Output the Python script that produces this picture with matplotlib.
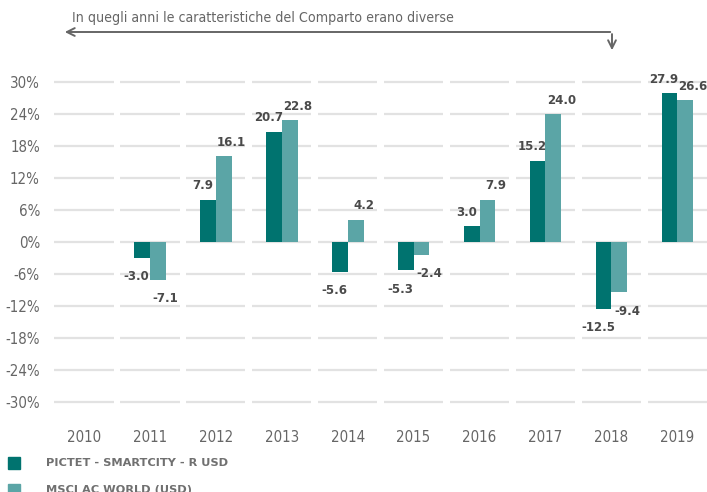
import matplotlib.pyplot as plt
from matplotlib.patches import Rectangle

years = ['2010', '2011', '2012', '2013', '2014', '2015', '2016', '2017', '2018', '2019']
fund = [None, -3.0, 7.9, 20.7, -5.6, -5.3, 3.0, 15.2, -12.5, 27.9]
index = [None, -7.1, 16.1, 22.8, 4.2, -2.4, 7.9, 24.0, -9.4, 26.6]
yticks = [30, 24, 18, 12, 6, 0, -6, -12, -18, -24, -30]
series_names = ['PICTET - SMARTCITY - R USD', 'MSCI AC WORLD (USD)']

dark = '#00736f'
light = '#5ba5a6'
grey = '#666666'

W, H = 707, 492
fig = plt.figure(figsize=(W / 100, H / 100), dpi=100)
ax = fig.add_axes([51 / W, 1 - 402 / H, (707 - 51) / W, 320 / H])
ax.set_xlim(-0.5, 9.45)
ax.set_ylim(-30, 30)

# broken gridlines, one segment per year
for t in yticks:
    for i in range(len(years)):
        ax.plot([i - 0.45, i + 0.45], [t, t], color='#e2e2e2', lw=1.6,
                zorder=0, solid_capstyle='butt', clip_on=False)

bw = 0.24
for i in range(len(years)):
    if fund[i] is None:
        continue
    ax.bar(i - bw / 2, fund[i], bw, color=dark, zorder=2)
    ax.bar(i + bw / 2, index[i], bw, color=light, zorder=2)
    for v, dx in [(fund[i], -0.2), (index[i], 0.24)]:
        off = 14 if v >= 0 else -19
        ax.annotate('{:.1f}'.format(v), (i + dx, v), xytext=(0, off),
                    textcoords='offset pixels', ha='center', va='center',
                    fontsize=8.5, fontweight='bold', color='#4a4a4a')

ax.set_yticks(yticks)
ax.set_yticklabels(['{}%'.format(t) for t in yticks], fontstretch='condensed',
                   fontsize=10.8, color=grey)
ax.set_xticks(range(len(years)))
ax.set_xticklabels(years, fontstretch='condensed', fontsize=10.8, color=grey)
ax.tick_params(length=0)
ax.tick_params(axis='y', pad=8)
ax.tick_params(axis='x', pad=20)
for s in ax.spines.values():
    s.set_visible(False)

# arrow annotation at the top
ax.annotate('', xy=(62 / W, 1 - 32 / H), xytext=(613 / W, 1 - 32 / H),
            xycoords='figure fraction',
            arrowprops=dict(arrowstyle='->', color='#666666', lw=1.4,
                            mutation_scale=14))
ax.annotate('', xy=(612 / W, 1 - 53 / H), xytext=(612 / W, 1 - 31.3 / H),
            xycoords='figure fraction',
            arrowprops=dict(arrowstyle='->', color='#666666', lw=1.4,
                            mutation_scale=14))
fig.text(72 / W, 1 - 18 / H, 'In quegli anni le caratteristiche del Comparto erano diverse',
         fontstretch='condensed', fontsize=10.2, color=grey, va='center')

# legend
for k, (name, c) in enumerate(zip(series_names, [dark, light])):
    y = 463 + 27 * k
    fig.patches.append(Rectangle((8 / W, 1 - (y + 6) / H), 12 / W, 12 / H,
                                 transform=fig.transFigure, color=c))
    fig.text(46 / W, 1 - y / H, name, fontsize=8.2, fontweight='bold',
             color='#707070', va='center')

fig.savefig('out.png', dpi=100)
